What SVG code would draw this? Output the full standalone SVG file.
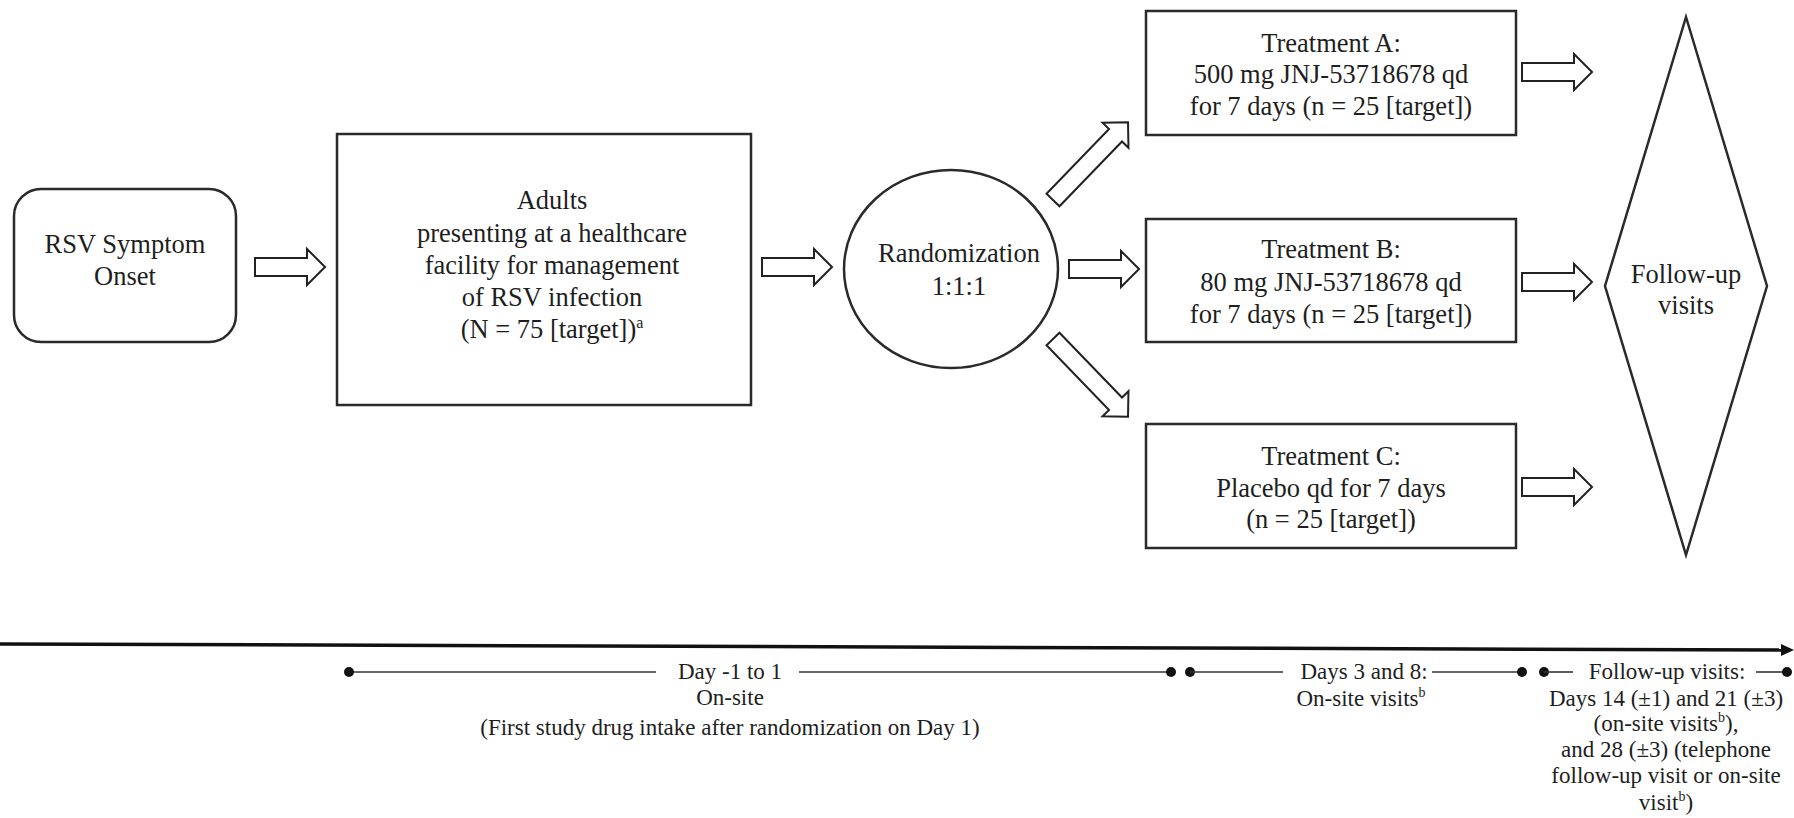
<svg xmlns="http://www.w3.org/2000/svg" xmlns:xlink="http://www.w3.org/1999/xlink" width="1794" height="818" viewBox="0 0 1794 818">
<style>
.box{fill:#fff;stroke:#2a2a2a;stroke-width:2.5}
.t{font-family:"Liberation Serif","Times New Roman",serif;font-size:26.5px;fill:#1e1e1e;text-anchor:middle}
.tl{font-family:"Liberation Serif","Times New Roman",serif;font-size:23px;fill:#1e1e1e;text-anchor:middle}
.arr{fill:#fff;stroke:#222;stroke-width:2;stroke-linejoin:miter}
.seg{stroke:#333;stroke-width:1.6;fill:none}
.dot{fill:#111}
</style>
<defs>
<path id="arrH" d="M0,-9 H52 V-18 L70,0 L52,18 V9 H0 Z"/>
<path id="arrD" d="M0,-9 H90 V-18 L108,0 L90,18 V9 H0 Z"/>
</defs>
<rect width="1794" height="818" fill="#fff"/>

<g id="onset">
<rect class="box" x="14" y="189" width="222" height="153" rx="27"/>
<text class="t" x="125" y="253">RSV Symptom</text>
<text class="t" x="125" y="285">Onset</text>
</g>

<g id="adults">
<rect class="box" x="337" y="134" width="414" height="271"/>
<text class="t" x="552" y="209">Adults</text>
<text class="t" x="552" y="242">presenting at a healthcare</text>
<text class="t" x="552" y="274">facility for management</text>
<text class="t" x="552" y="306">of RSV infection</text>
<text class="t" x="552" y="338">(N = 75 [target])<tspan font-size="16" dy="-10">a</tspan></text>
</g>

<g id="randomization">
<ellipse class="box" cx="951" cy="269" rx="107" ry="99"/>
<text class="t" x="959" y="262">Randomization</text>
<text class="t" x="959" y="295">1:1:1</text>
</g>

<g id="treatmentA">
<rect class="box" x="1146" y="11" width="370" height="124"/>
<text class="t" x="1331" y="52">Treatment A:</text>
<text class="t" x="1331" y="83">500 mg JNJ-53718678 qd</text>
<text class="t" x="1331" y="115">for 7 days (n = 25 [target])</text>
</g>

<g id="treatmentB">
<rect class="box" x="1146" y="219" width="370" height="123"/>
<text class="t" x="1331" y="258">Treatment B:</text>
<text class="t" x="1331" y="291">80 mg JNJ-53718678 qd</text>
<text class="t" x="1331" y="323">for 7 days (n = 25 [target])</text>
</g>

<g id="treatmentC">
<rect class="box" x="1146" y="424" width="370" height="124"/>
<text class="t" x="1331" y="465">Treatment C:</text>
<text class="t" x="1331" y="497">Placebo qd for 7 days</text>
<text class="t" x="1331" y="528">(n = 25 [target])</text>
</g>

<g id="followup">
<polygon class="box" points="1686,17 1767,286 1686,555 1605,286" stroke-width="2"/>
<text class="t" x="1686" y="283">Follow-up</text>
<text class="t" x="1686" y="314">visits</text>
</g>

<g id="connectors">
<use xlink:href="#arrH" class="arr" transform="translate(255,267)"/>
<use xlink:href="#arrH" class="arr" transform="translate(762,267)"/>
<use xlink:href="#arrH" class="arr" transform="translate(1069,269)"/>
<use xlink:href="#arrD" class="arr" transform="translate(1053,200) rotate(-46)"/>
<use xlink:href="#arrD" class="arr" transform="translate(1053,339) rotate(46)"/>
<use xlink:href="#arrH" class="arr" transform="translate(1522,72)"/>
<use xlink:href="#arrH" class="arr" transform="translate(1522,282)"/>
<use xlink:href="#arrH" class="arr" transform="translate(1522,487)"/>
</g>

<g id="timeline">
<line x1="0" y1="644" x2="1784" y2="650" stroke="#111" stroke-width="3.5"/>
<polygon points="1781,644 1794,650 1781,656" fill="#111"/>

<line class="seg" x1="349" y1="672" x2="656" y2="672"/>
<line class="seg" x1="799" y1="672" x2="1171" y2="672"/>
<circle class="dot" cx="349" cy="672" r="5"/>
<circle class="dot" cx="1171" cy="672" r="5"/>
<circle class="dot" cx="1190" cy="672" r="5"/>
<text class="tl" x="730" y="679">Day -1 to 1</text>
<text class="tl" x="730" y="705">On-site</text>
<text class="tl" x="730" y="735">(First study drug intake after randomization on Day 1)</text>

<line class="seg" x1="1190" y1="672" x2="1283" y2="672"/>
<line class="seg" x1="1432" y1="672" x2="1522" y2="672"/>
<circle class="dot" cx="1522" cy="672" r="5"/>
<circle class="dot" cx="1544" cy="672" r="5"/>
<text class="tl" x="1364" y="679">Days 3 and 8:</text>
<text class="tl" x="1361" y="706">On-site visits<tspan font-size="14" dy="-9">b</tspan></text>

<line class="seg" x1="1544" y1="672" x2="1573" y2="672"/>
<line class="seg" x1="1756" y1="672" x2="1787" y2="672"/>
<circle class="dot" cx="1787" cy="672" r="5"/>
<text class="tl" x="1667" y="679">Follow-up visits:</text>
<text class="tl" x="1666" y="706">Days 14 (±1) and 21 (±3)</text>
<text class="tl" x="1666" y="731">(on-site visits<tspan font-size="14" dy="-9">b</tspan><tspan dy="9">),</tspan></text>
<text class="tl" x="1666" y="757">and 28 (±3) (telephone</text>
<text class="tl" x="1666" y="783">follow-up visit or on-site</text>
<text class="tl" x="1666" y="810">visit<tspan font-size="14" dy="-9">b</tspan><tspan dy="9">)</tspan></text>
</g>
</svg>
